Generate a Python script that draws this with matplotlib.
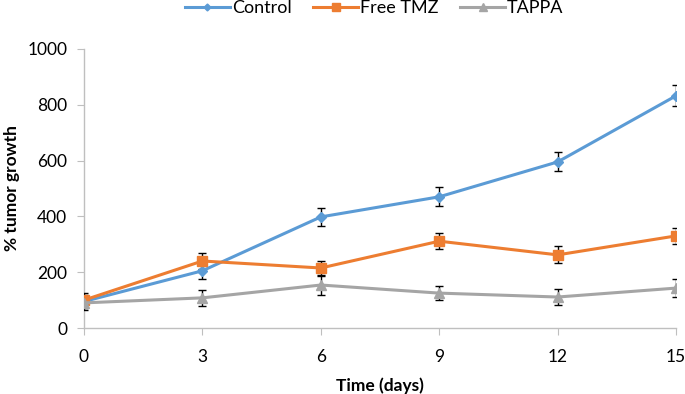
import matplotlib
matplotlib.use("Agg")
import matplotlib.pyplot as plt
from matplotlib.lines import Line2D

plt.rcParams['font.family'] = ['Lato', 'DejaVu Sans']

days = [0, 3, 6, 9, 12, 15]
control = [95, 205, 398, 470, 595, 832]
control_err = [25, 30, 33, 34, 34, 38]
free_tmz = [100, 240, 215, 311, 262, 330]
free_tmz_err = [25, 30, 25, 28, 30, 30]
tappa = [90, 108, 154, 125, 111, 143]
tappa_err = [25, 28, 34, 25, 28, 32]

series = [
    ("Control", control, control_err, "#5B9BD5", "D", 5),
    ("Free TMZ", free_tmz, free_tmz_err, "#ED7D31", "s", 7),
    ("TAPPA", tappa, tappa_err, "#A5A5A5", "^", 7),
]

fig = plt.figure(figsize=(6.85, 3.94), dpi=100)
ax = fig.add_axes([0.1226, 0.1675, 0.8644, 0.7085])

handles = []
for name, vals, err, col, mk, ms in series:
    ax.errorbar(days, vals, yerr=err, color=col, marker=mk, markersize=ms,
                linewidth=2.2, ecolor="black", elinewidth=1, capsize=3,
                capthick=1, zorder=3)
    handles.append(Line2D([], [], color=col, marker=mk, markersize=ms - 1.5,
                          linewidth=2.2, label=name))

ax.set_xlim(0, 15)
ax.set_ylim(0, 1000)
ax.set_xticks(days)
ax.set_yticks(range(0, 1001, 200))
for s in ["top", "right"]:
    ax.spines[s].set_visible(False)
for s in ["left", "bottom"]:
    ax.spines[s].set_color("#BFBFBF")
    ax.spines[s].set_linewidth(1)
ax.tick_params(axis="both", colors="#BFBFBF", labelcolor="black", labelsize=12.5,
               length=5, direction="out")
ax.tick_params(axis="x", pad=10)
ax.tick_params(axis="y", pad=7)
ax.set_xlabel("Time (days)", fontsize=12.5, fontweight="bold", labelpad=9)
ax.set_ylabel("% tumor growth", fontsize=12.5, fontweight="bold", labelpad=5)

ax.legend(handles=handles, loc="center", bbox_to_anchor=(0.49, 1.145), ncol=3,
          frameon=False, fontsize=13, handlelength=2.5, handletextpad=0.1,
          columnspacing=1.2, borderaxespad=0, borderpad=0)

fig.savefig("out.png", dpi=100)
